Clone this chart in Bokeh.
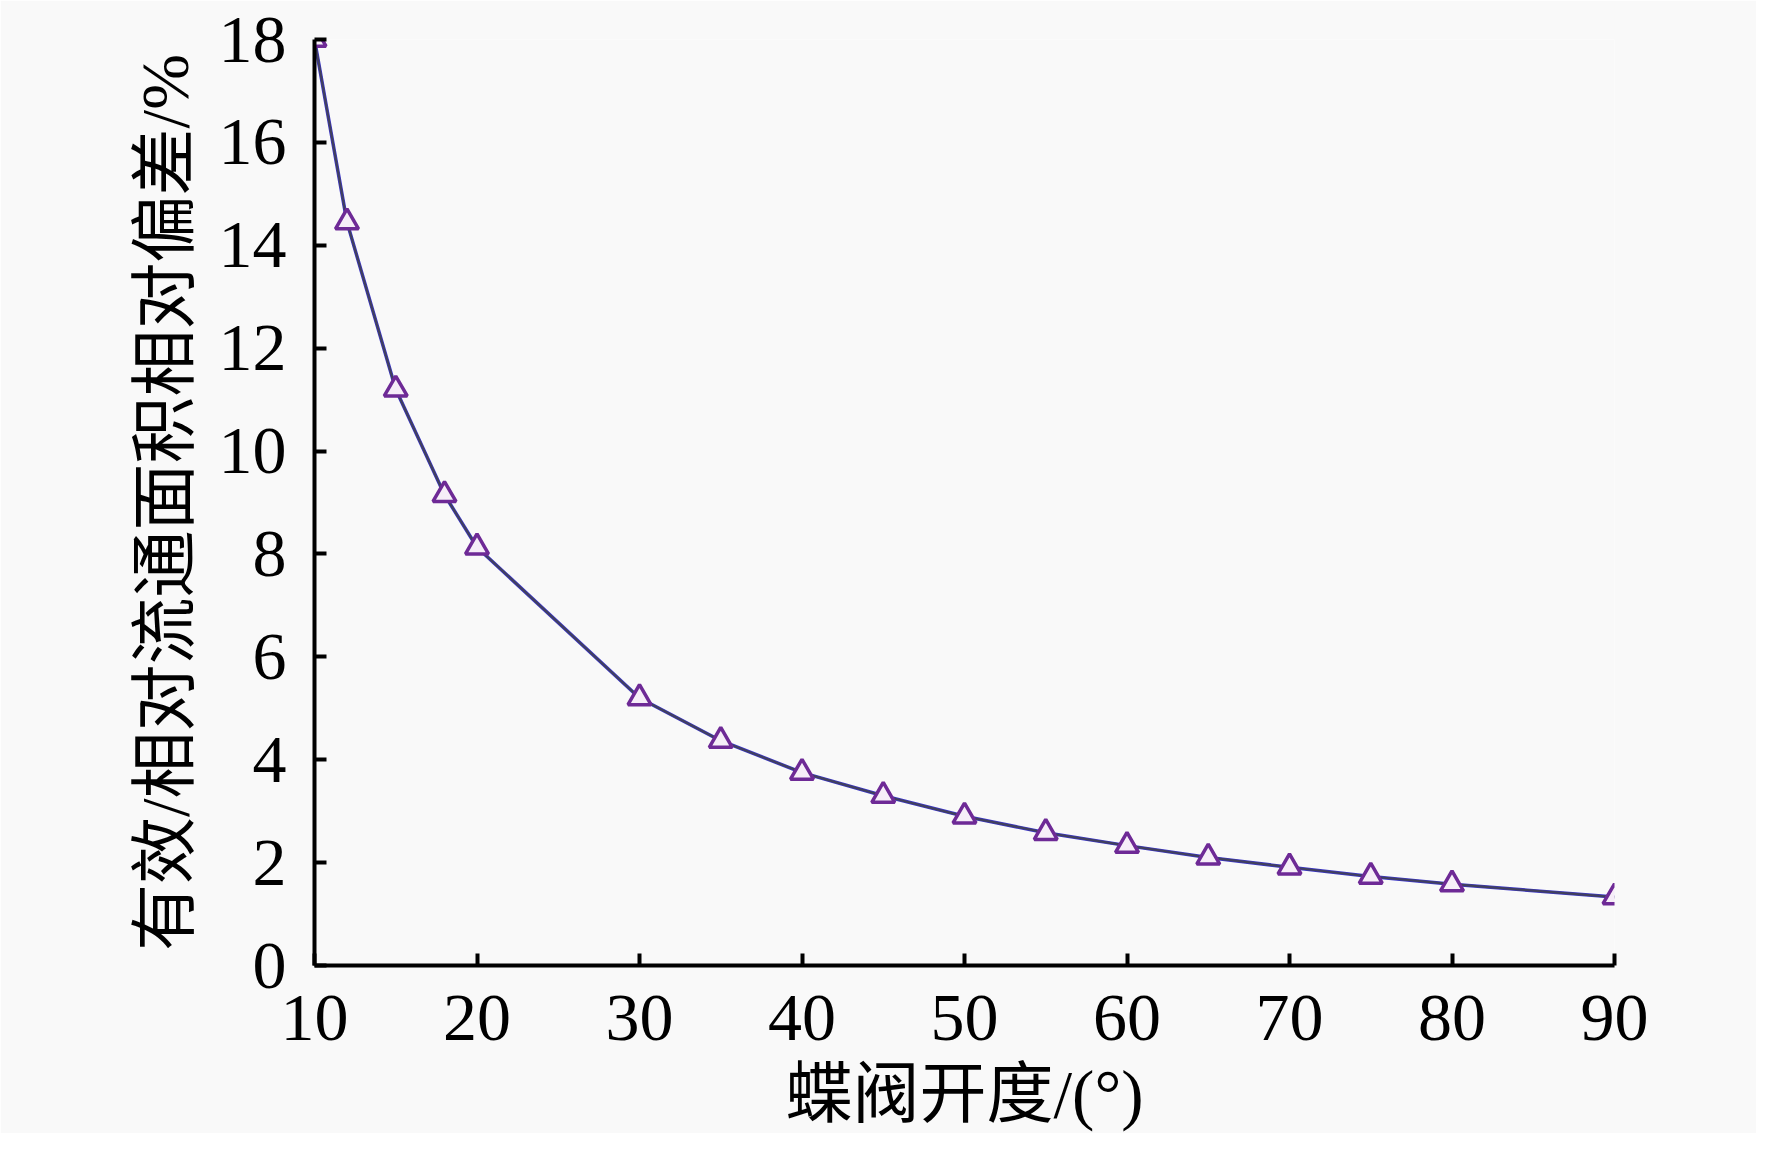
from bokeh.plotting import figure
from bokeh.models import FixedTicker, Range1d
from bokeh.embed import file_html
from bokeh.resources import INLINE

# data
opening_deg = [10, 12, 15, 18, 20, 30, 35, 40, 45, 50, 55, 60, 65, 70, 75, 80, 90]
deviation_pct = [18.0, 14.45, 11.2, 9.15, 8.13, 5.2, 4.37, 3.75, 3.3, 2.9, 2.58, 2.33, 2.1, 1.91, 1.73, 1.58, 1.33]
x_ticks = [10, 20, 30, 40, 50, 60, 70, 80, 90]
y_ticks = [0, 2, 4, 6, 8, 10, 12, 14, 16, 18]
x_title = "蝶阀开度/(°)"
y_title = "有效/相对流通面积相对偏差/%"

BG = "#f9f9f9"
FONT = "Liberation Serif, Noto Sans CJK SC"

p = figure(width=1756, height=1133, output_backend="svg", toolbar_location=None,
           x_range=Range1d(10, 90), y_range=Range1d(0, 18),
           min_border_left=314, min_border_right=142, min_border_top=39, min_border_bottom=150)
p.background_fill_color = BG
p.border_fill_color = BG
p.outline_line_color = None
p.grid.visible = False

p.line(opening_deg, deviation_pct, line_color="#3b36c8", line_width=3.5)
p.line(opening_deg, deviation_pct, line_color="#444444", line_width=2.2, line_alpha=0.8)
p.scatter(opening_deg, deviation_pct, marker="triangle", size=23,
          fill_color="#f6eef8", line_color="#6e2a96", line_width=3.5)

for ax in (p.xaxis[0], p.yaxis[0]):
    ax.axis_line_color = "black"
    ax.axis_line_width = 4
    ax.major_tick_line_color = "black"
    ax.major_tick_line_width = 4
    ax.major_tick_in = 12
    ax.major_tick_out = 0
    ax.minor_tick_line_color = None
    ax.major_label_text_font = FONT
    ax.major_label_text_font_size = "68px"
    ax.major_label_text_color = "black"
    ax.axis_label_text_font = FONT
    ax.axis_label_text_font_size = "67px"
    ax.axis_label_text_font_style = "normal"
    ax.axis_label_text_color = "black"

p.xaxis[0].ticker = FixedTicker(ticks=x_ticks)
p.yaxis[0].ticker = FixedTicker(ticks=y_ticks)
p.xaxis[0].major_label_standoff = 30
p.yaxis[0].major_label_standoff = 28
p.xaxis[0].axis_label = x_title
p.yaxis[0].axis_label = y_title
p.xaxis[0].axis_label_standoff = 14
p.yaxis[0].axis_label_standoff = 14

open("out.html", "w").write(file_html(p, INLINE))
